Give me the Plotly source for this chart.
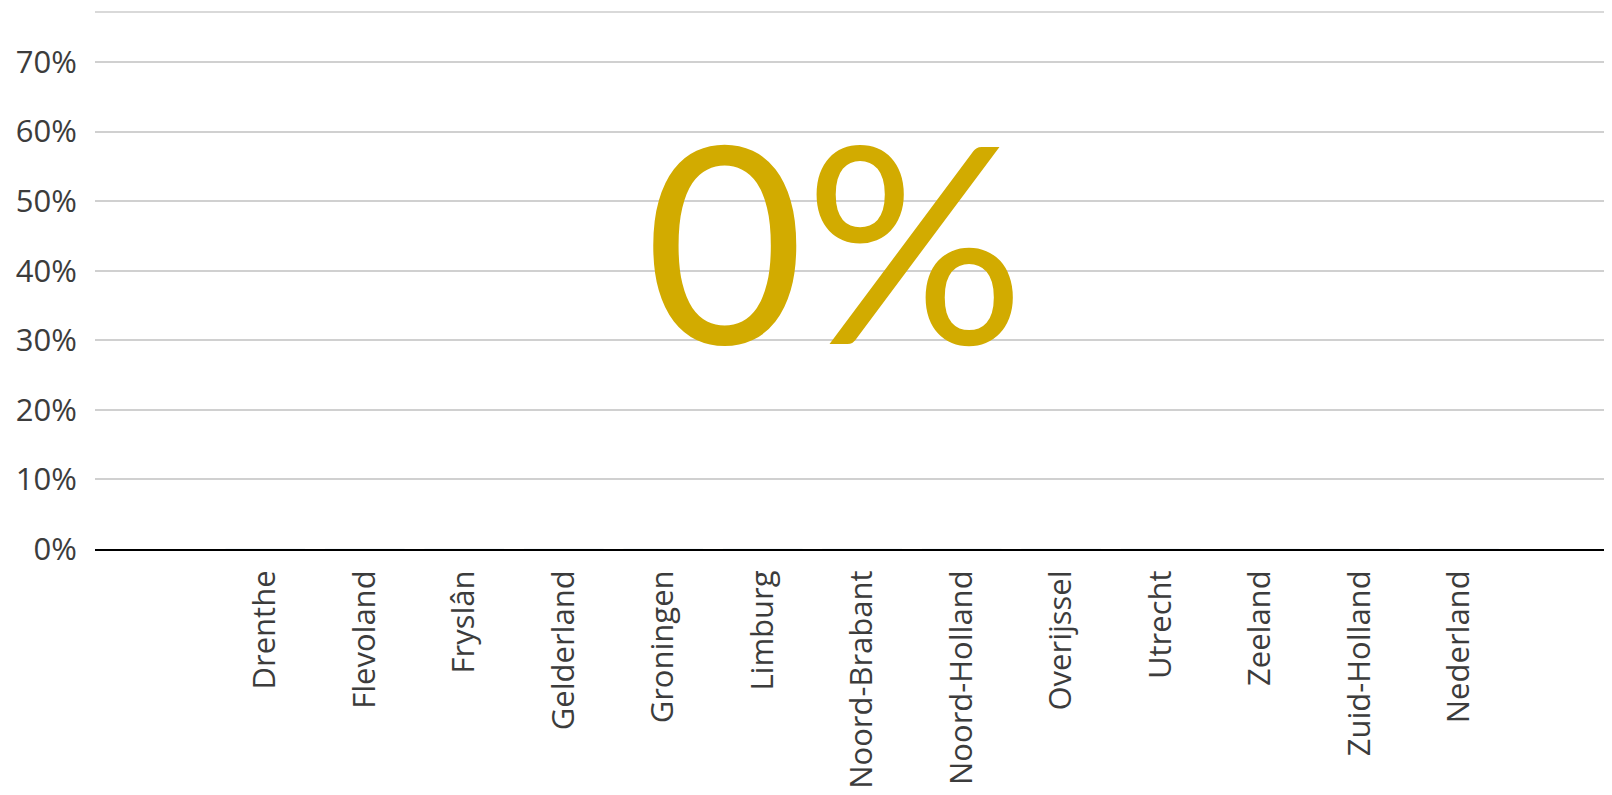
import plotly.graph_objects as go

categories = ["Drenthe", "Flevoland", "Fryslân", "Gelderland", "Groningen", "Limburg",
              "Noord-Brabant", "Noord-Holland", "Overijssel", "Utrecht", "Zeeland",
              "Zuid-Holland", "Nederland"]
values = [0, 0, 0, 0, 0, 0, 0, 0, 0, 0, 0, 0, 0]
big_label = "0%"
y_ticks = [0, 0.1, 0.2, 0.3, 0.4, 0.5, 0.6, 0.7]

GOLD = "#D2AB00"
FONT = "Open Sans"

fig = go.Figure()
fig.add_trace(go.Bar(x=list(range(len(categories))), y=values, marker_color=GOLD,
                     hoverinfo="skip", showlegend=False))

fig.update_layout(
    width=1604, height=779,
    margin=dict(l=87, r=0, t=4, b=238, autoexpand=False),
    paper_bgcolor="white", plot_bgcolor="white",
    font=dict(family=FONT, color="#3c3c3c"),
    showlegend=False,
    xaxis=dict(
        tickmode="array", tickvals=list(range(len(categories))), ticktext=categories,
        range=[-1.712, 13.538], tickangle=-90, automargin=False,
        tickfont=dict(size=31, family=FONT, color="#3c3c3c"),
        ticks="outside", ticklen=7, tickcolor="rgba(0,0,0,0)",
        showgrid=False, zeroline=False,
        showline=True, linecolor="black", linewidth=2,
    ),
    yaxis=dict(
        range=[0, 0.772], tickmode="array", tickvals=y_ticks, tickformat=".0%",
        automargin=False,
        tickfont=dict(size=31, family=FONT, color="#3c3c3c"),
        ticks="outside", ticklen=11, tickcolor="rgba(0,0,0,0)",
        showgrid=True, gridcolor="#d0d0d0", gridwidth=1.5,
        zeroline=False, showline=False,
    ),
    shapes=[dict(type="line", xref="paper", yref="paper", x0=0, x1=1, y0=1, y1=1,
                 line=dict(color="#cccccc", width=1.5))],
    annotations=[dict(text=big_label, xref="paper", yref="paper", x=0.488, y=0.58,
                      xanchor="center", yanchor="middle", showarrow=False,
                      font=dict(family="Lato", size=275, color=GOLD))],
)

fig.write_html("out.html", config={"displayModeBar": False})
